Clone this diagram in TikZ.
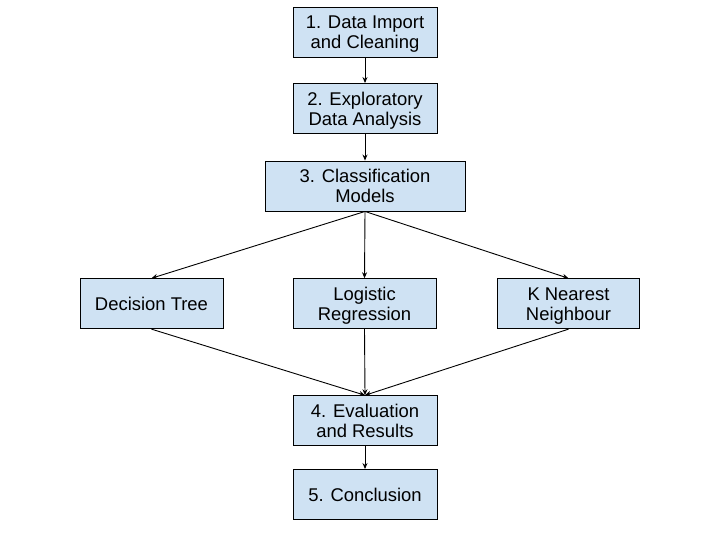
\documentclass[tikz,border=0pt]{standalone}
\usepackage{fontspec}
\setmainfont{Liberation Sans}
\usetikzlibrary{arrows.meta}
\begin{document}
\begin{tikzpicture}[x=1bp,y=-1bp,
  box/.style={draw=black,line width=0.9bp,fill=boxblue,align=center,inner sep=0pt,
    font=\fontsize{18.5}{20}\selectfont,text depth=0pt,minimum height=50bp},
  conn/.style={draw=black,line width=0.9bp,-{Stealth[length=6bp,width=5bp]}}]
\definecolor{boxblue}{HTML}{CFE2F3}
\useasboundingbox (0,0) rectangle (720,540);
\node[box,minimum width=144bp] (b1) at (365,32.5) {1. Data Import\\and Cleaning};
\node[box,minimum width=144bp] (b2) at (365,108.5) {2. Exploratory\\Data Analysis};
\node[box,minimum width=200bp] (b3) at (365,186) {3. Classification\\Models};
\node[box,minimum width=143bp] (dt) at (151.5,303.7) {Decision Tree};
\node[box,minimum width=143bp] (lr) at (364.5,303.7) {Logistic\\Regression};
\node[box,minimum width=142bp] (kn) at (568.5,303.7) {K Nearest\\Neighbour};
\node[box,minimum width=144bp] (b4) at (365,420.7) {4. Evaluation\\and Results};
\node[box,minimum width=144bp] (b5) at (365,494.5) {5. Conclusion};
\draw[conn] (b1.south) -- (b2.north);
\draw[conn] (b2.south) -- (b3.north);
\draw[conn] (b3.south) -- (dt.north);
\draw[conn] (b3.south) -- (lr.north);
\draw[conn] (b3.south) -- (kn.north);
\draw[conn] (dt.south) -- (b4.north);
\draw[conn] (lr.south) -- (b4.north);
\draw[conn] (kn.south) -- (b4.north);
\draw[conn] (b4.south) -- (b5.north);
\end{tikzpicture}
\end{document}
